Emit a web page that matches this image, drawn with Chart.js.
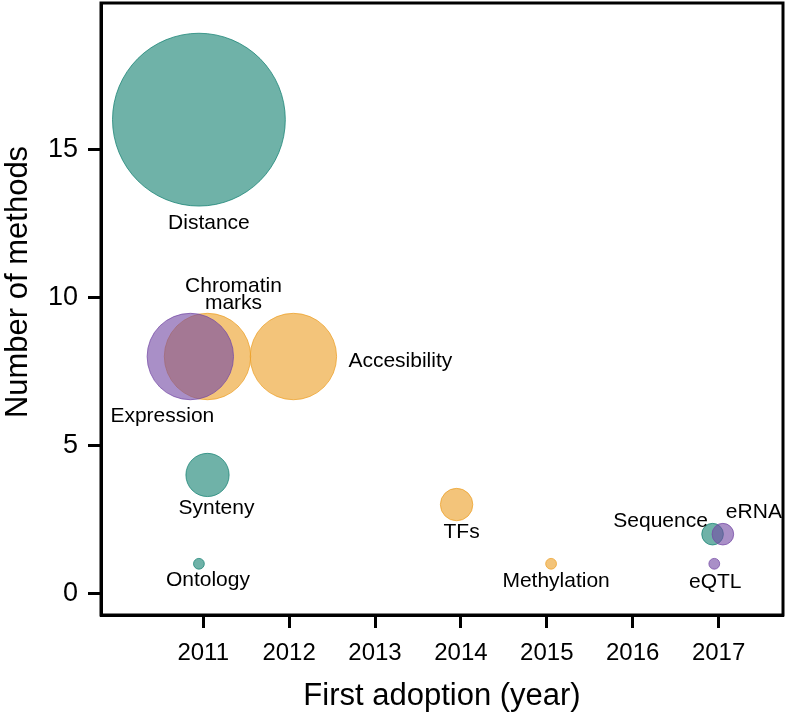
<!DOCTYPE html>
<html>
<head>
<meta charset="utf-8">
<title>First adoption of enhancer-gene linking features</title>
<script src="https://cdn.jsdelivr.net/npm/chart.js@4.4.1/dist/chart.umd.min.js"></script>
<style>
  html, body { margin: 0; padding: 0; background: #fff; }
</style>
</head>
<body>
<canvas id="chart" width="789" height="715"></canvas>
<script>
// data
const methods = ['Distance', 'Synteny', 'Ontology', 'Sequence',
                 'Chromatin marks', 'Accesibility', 'TFs', 'Methylation',
                 'Expression', 'eRNA', 'eQTL'];
const featureKind = ['genomic', 'genomic', 'genomic', 'genomic',
                     'epigenomic', 'epigenomic', 'epigenomic', 'epigenomic',
                     'transcriptomic', 'transcriptomic', 'transcriptomic'];
const firstAdoption = [2010.95, 2011.05, 2010.95, 2016.93,
                       2011.05, 2012.05, 2013.95, 2015.05,
                       2010.85, 2017.05, 2016.95];
const methodCount = [16, 4, 1, 2,
                     8, 8, 3, 1,
                     8, 2, 1];
// first dataset is painted last (on top) by Chart.js
const kinds = ['transcriptomic', 'epigenomic', 'genomic'];
const yearTicks = [2011, 2012, 2013, 2014, 2015, 2016, 2017];
const countTicks = [0, 5, 10, 15];

// styling
const FONT = '"Liberation Sans", Arial, Helvetica, sans-serif';
const PX_PER_METHOD = 5.4;   // bubble radius grows with the count
const kindRGB = {
    genomic: [22, 130, 115],
    epigenomic: [236, 160, 40],
    transcriptomic: [117, 75, 165]
};
// label placement relative to bubble centre (px), baseline-anchored
const labelPlace = {
    'Distance':        { dx: 10,  dy: [109] },
    'Chromatin marks': { dx: 26,  dy: [-65, -48], lines: ['Chromatin', 'marks'] },
    'Accesibility':    { dx: 55,  dy: [10], align: 'left' },
    'Expression':      { dx: -28, dy: [65] },
    'Synteny':         { dx: 9,   dy: [39] },
    'Ontology':        { dx: 9,   dy: [22] },
    'TFs':             { dx: 5,   dy: [33] },
    'Methylation':     { dx: 5,   dy: [23] },
    'Sequence':        { dx: -52, dy: [-7] },
    'eRNA':            { dx: 31,  dy: [-16] },
    'eQTL':            { dx: 1,   dy: [24] }
};

function rgba(c, a) {
    return `rgba(${c[0]}, ${c[1]}, ${c[2]}, ${a})`;
}

// the big bubble would otherwise push the plot area inwards
Chart.BubbleController.prototype.getMaxOverflow = function () { return false; };

const datasets = kinds.map(kind => {
    const pts = [];
    methods.forEach((m, i) => {
        if (featureKind[i] !== kind) return;
        pts.push({ x: firstAdoption[i], y: methodCount[i], r: methodCount[i] * PX_PER_METHOD, name: m });
    });
    return {
        label: kind,
        data: pts,
        backgroundColor: rgba(kindRGB[kind], 0.62),
        borderColor: rgba(kindRGB[kind], 0.75),
        borderWidth: 1
    };
});

const framePlugin = {
    id: 'frame',
    afterDraw(chart) {
        const { ctx, chartArea: a } = chart;
        ctx.save();
        ctx.strokeStyle = '#000';
        ctx.lineWidth = 3;
        ctx.strokeRect(a.left, a.top, a.right - a.left, a.bottom - a.top);

        // y axis title
        ctx.fillStyle = '#000';
        ctx.font = `31px ${FONT}`;
        ctx.textAlign = 'center';
        ctx.textBaseline = 'middle';
        ctx.translate(18, 282);
        ctx.rotate(-Math.PI / 2);
        ctx.fillText('Number of methods', 0, 0);
        ctx.restore();
    }
};

const labelPlugin = {
    id: 'bubbleLabels',
    afterDatasetsDraw(chart) {
        const ctx = chart.ctx;
        ctx.save();
        ctx.fillStyle = '#000';
        ctx.font = `21px ${FONT}`;
        ctx.textBaseline = 'alphabetic';
        chart.data.datasets.forEach((ds, di) => {
            chart.getDatasetMeta(di).data.forEach((el, i) => {
                const name = ds.data[i].name;
                const p = labelPlace[name];
                const lines = p.lines || [name];
                ctx.textAlign = p.align || 'center';
                lines.forEach((t, k) => ctx.fillText(t, el.x + p.dx, el.y + p.dy[k]));
            });
        });
        ctx.restore();
    }
};

new Chart(document.getElementById('chart'), {
    type: 'bubble',
    data: { datasets },
    options: {
        responsive: false,
        animation: false,
        devicePixelRatio: 1,
        events: [],
        layout: { padding: { top: 3, right: 6, left: 0, bottom: 0 } },
        plugins: {
            legend: { display: false },
            tooltip: { enabled: false }
        },
        scales: {
            x: {
                type: 'linear',
                min: 2009.81,
                max: 2017.75,
                afterBuildTicks: s => { s.ticks = yearTicks.map(v => ({ value: v })); },
                afterFit: s => {
                    s.height = 100;
                    s.paddingLeft = 0;
                    s.paddingRight = 0;
                },
                grid: { drawOnChartArea: false, drawTicks: true, tickLength: 13, tickWidth: 3, color: '#000' },
                border: { display: true, color: '#000', width: 3 },
                ticks: {
                    color: '#000',
                    font: { family: FONT, size: 24 },
                    padding: 11,
                    maxRotation: 0,
                    autoSkip: false,
                    callback: v => String(v)
                },
                title: {
                    display: true,
                    text: 'First adoption (year)',
                    color: '#000',
                    font: { family: FONT, size: 31 },
                    padding: { top: 0, bottom: 0 }
                }
            },
            y: {
                type: 'linear',
                min: -0.73,
                max: 19.94,
                afterBuildTicks: s => { s.ticks = countTicks.map(v => ({ value: v })); },
                afterFit: s => {
                    s.width = 101;
                    s.paddingTop = 0;
                    s.paddingBottom = 0;
                },
                grid: { drawOnChartArea: false, drawTicks: true, tickLength: 13, tickWidth: 3, color: '#000' },
                border: { display: true, color: '#000', width: 3 },
                ticks: {
                    color: '#000',
                    font: { family: FONT, size: 27 },
                    padding: 10,
                    autoSkip: false,
                    callback: v => String(v)
                }
            }
        }
    },
    plugins: [framePlugin, labelPlugin]
});
</script>
</body>
</html>
